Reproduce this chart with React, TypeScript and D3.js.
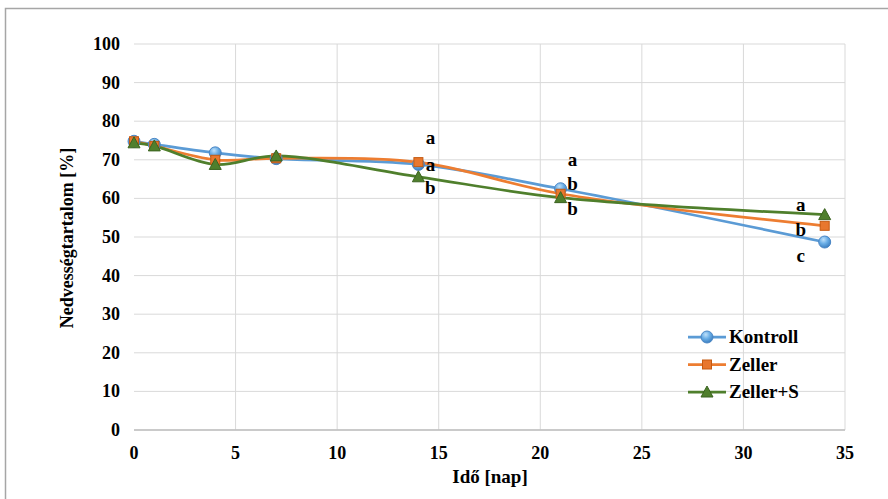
import React from "react";
import * as d3 from "d3";

const days = [0, 1, 4, 7, 14, 21, 34];
const kontroll = [74.8, 74.0, 71.8, 70.3, 68.8, 62.5, 48.7];
const zeller = [74.8, 73.6, 70.0, 70.4, 69.4, 61.2, 52.9];
const zellerS = [74.4, 73.6, 68.8, 71.0, 65.6, 60.2, 55.8];

const seriesNames = ["Kontroll", "Zeller", "Zeller+S"];
const seriesColors = ["#5B9BD5", "#ED7D31", "#4F7F2C"];

const xTicks = [0, 5, 10, 15, 20, 25, 30, 35];
const yTicks = [0, 10, 20, 30, 40, 50, 60, 70, 80, 90, 100];

// significance letters: day, value level, letter
const letterDays = [14, 14, 14, 21, 21, 21, 34, 34, 34];
const letterValues = [75.7, 68.6, 62.6, 70.0, 63.8, 57.2, 58.3, 51.8, 45.2];
const letterTexts = ["a", "a", "b", "a", "b", "b", "a", "b", "c"];

const W = 888;
const H = 499;
const x = d3.scaleLinear().domain([0, 35]).range([134, 845]);
const y = d3.scaleLinear().domain([0, 100]).range([430, 44]);

const f = (size: number) => ({ font: `bold ${size}px "Liberation Serif"` });

function Marker({ i, cx, cy }: { i: number; cx: number; cy: number }) {
  if (i === 0)
    return <circle cx={cx} cy={cy} r={6} fill="url(#gBlue)" stroke="#4A86C5" strokeWidth={1} />;
  if (i === 1)
    return <rect x={cx - 4.5} y={cy - 4.5} width={9} height={9} fill="#E8772E" stroke="#C55A11" strokeWidth={1} />;
  return (
    <path
      d={`M${cx},${cy - 6}L${cx + 6},${cy + 5}L${cx - 6},${cy + 5}Z`}
      fill="#4F7F2C"
      stroke="#3B6320"
      strokeWidth={1}
    />
  );
}

export default function App() {
  const all = [kontroll, zeller, zellerS];
  const line = d3
    .line<[number, number]>()
    .x((d) => x(d[0]))
    .y((d) => y(d[1]))
    .curve(d3.curveCatmullRom.alpha(0.5));

  return (
    <svg width={W} height={H} style={{ position: "absolute", left: 0, top: 0 }}>
      <defs>
        <radialGradient id="gBlue" cx="0.4" cy="0.3" r="0.7">
          <stop offset="0" stopColor="#BFE0FA" />
          <stop offset="0.5" stopColor="#6AAEE6" />
          <stop offset="1" stopColor="#3C7FC0" />
        </radialGradient>
      </defs>
      <rect x={5.5} y={8.5} width={W} height={H} fill="#fff" stroke="#A6A6A6" strokeWidth={1.5} />
      {yTicks.map((t) => (
        <line key={"gy" + t} x1={x(0)} x2={x(35)} y1={y(t)} y2={y(t)} stroke="#D9D9D9" strokeWidth={1} />
      ))}
      {xTicks.map((t) =>
        t === 0 ? null : (
          <line key={"gx" + t} x1={x(t)} x2={x(t)} y1={y(0)} y2={y(100)} stroke="#D9D9D9" strokeWidth={1} />
        )
      )}
      <line x1={x(0)} x2={x(35)} y1={y(0)} y2={y(0)} stroke="#BFBFBF" strokeWidth={1.5} />
      {yTicks.map((t) => (
        <text key={"ty" + t} style={f(18)} x={120} y={y(t) + 6} textAnchor="end" fill="#000">
          {String(t)}
        </text>
      ))}
      {xTicks.map((t) => (
        <text key={"tx" + t} style={f(18)} x={x(t)} y={459} textAnchor="middle" fill="#000">
          {String(t)}
        </text>
      ))}
      <text style={f(19)} x={490} y={483} textAnchor="middle">
        Idő [nap]
      </text>
      <text style={f(18)} transform="translate(73,238) rotate(-90)" textAnchor="middle">
        Nedvességtartalom  [%]
      </text>
      {all.map((s, i) => (
        <path
          key={"l" + i}
          d={line(days.map((d, j) => [d, s[j]] as [number, number])) || ""}
          fill="none"
          stroke={seriesColors[i]}
          strokeWidth={2.75}
        />
      ))}
      {all.map((s, i) =>
        days.map((d, j) => <Marker key={`m${i}-${j}`} i={i} cx={x(d)} cy={y(s[j])} />)
      )}
      {letterTexts.map((t, k) => (
        <text
          key={"lt" + k}
          style={f(19)}
          x={x(letterDays[k]) + (letterDays[k] === 34 ? -24 : 12)}
          y={y(letterValues[k]) + 6}
          textAnchor="middle"
        >
          {t}
        </text>
      ))}
      {seriesNames.map((n, i) => {
        const ly = 337 + i * 27.5;
        return (
          <g key={"lg" + i}>
            <line x1={688} x2={726} y1={ly} y2={ly} stroke={seriesColors[i]} strokeWidth={2.75} />
            <Marker i={i} cx={707} cy={ly} />
            <text style={f(19)} x={729} y={ly + 6}>
              {n}
            </text>
          </g>
        );
      })}
    </svg>
  );
}
